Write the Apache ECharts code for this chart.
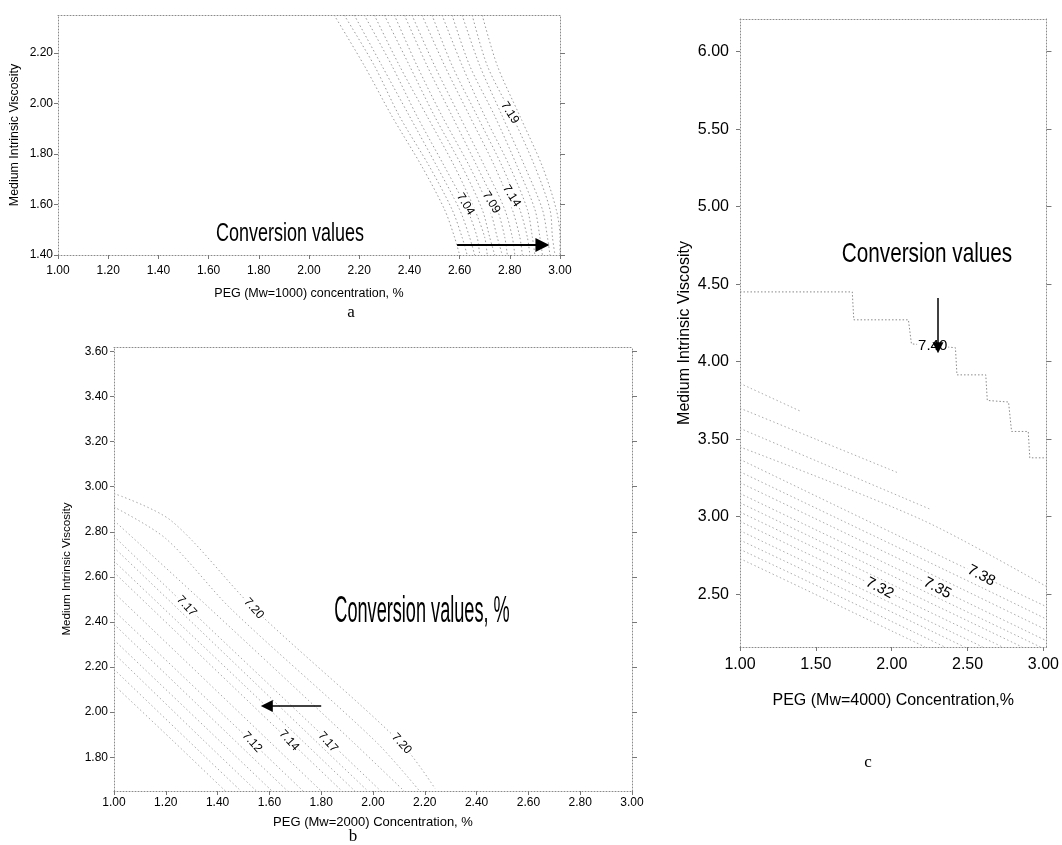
<!DOCTYPE html>
<html>
<head>
<meta charset="utf-8">
<script src="https://cdn.jsdelivr.net/npm/echarts@6/dist/echarts.min.js"></script>
<style>
html, body { margin: 0; padding: 0; background: #fff; }
#chart { width: 1062px; height: 845px; }
</style>
</head>
<body>
<div id="chart"></div>
<script>
// tick values of the three panels
const ticksA_x = [1.0, 1.2, 1.4, 1.6, 1.8, 2.0, 2.2, 2.4, 2.6, 2.8, 3.0];
const ticksA_y = [1.4, 1.6, 1.8, 2.0, 2.2];
const ticksB_x = [1.0, 1.2, 1.4, 1.6, 1.8, 2.0, 2.2, 2.4, 2.6, 2.8, 3.0];
const ticksB_y = [1.8, 2.0, 2.2, 2.4, 2.6, 2.8, 3.0, 3.2, 3.4, 3.6];
const ticksC_x = [1.0, 1.5, 2.0, 2.5, 3.0];
const ticksC_y = [2.5, 3.0, 3.5, 4.0, 4.5, 5.0, 5.5, 6.0];

// panel a: contour x positions read at these viscosity levels
const contourA_y = [2.35, 2.15, 1.95, 1.75, 1.58, 1.47, 1.40];
const contourA_x = [
  [2.10, 2.22, 2.33, 2.45, 2.54, 2.58, 2.60],
  [2.14, 2.26, 2.36, 2.48, 2.57, 2.61, 2.63],
  [2.18, 2.29, 2.40, 2.51, 2.60, 2.64, 2.66],
  [2.22, 2.33, 2.43, 2.54, 2.63, 2.67, 2.68],
  [2.26, 2.36, 2.47, 2.58, 2.66, 2.70, 2.71],
  [2.30, 2.40, 2.50, 2.61, 2.69, 2.72, 2.74],
  [2.34, 2.43, 2.53, 2.64, 2.72, 2.75, 2.77],
  [2.38, 2.47, 2.57, 2.67, 2.75, 2.78, 2.79],
  [2.41, 2.50, 2.60, 2.70, 2.78, 2.81, 2.82],
  [2.45, 2.54, 2.64, 2.74, 2.81, 2.84, 2.85],
  [2.49, 2.57, 2.67, 2.77, 2.84, 2.87, 2.88],
  [2.53, 2.61, 2.70, 2.80, 2.87, 2.89, 2.90],
  [2.57, 2.64, 2.74, 2.83, 2.90, 2.92, 2.93],
  [2.61, 2.68, 2.77, 2.86, 2.93, 2.95, 2.96],
  [2.65, 2.71, 2.81, 2.90, 2.96, 2.97, 2.98],
  [2.69, 2.75, 2.84, 2.93, 2.985, 3.00, 3.00]
];
const labelsA = [[2.80, 1.963, '7.19'], [2.807, 1.634, '7.14'], [2.726, 1.608, '7.09'], [2.623, 1.601, '7.04']];
const arrowA = [[2.59, 1.44], [2.93, 1.44]];

// panel b: contour lines
const contourB = [
  [[1.0, 2.12], [1.23, 1.87], [1.43, 1.65]],
  [[1.0, 2.19], [1.29, 1.87], [1.49, 1.65]],
  [[1.0, 2.26], [1.35, 1.87], [1.55, 1.65]],
  [[1.0, 2.32], [1.41, 1.87], [1.61, 1.65]],
  [[1.0, 2.39], [1.47, 1.87], [1.67, 1.65]],
  [[1.0, 2.45], [1.53, 1.87], [1.73, 1.65]],
  [[1.0, 2.53], [1.60, 1.87], [1.80, 1.65]],
  [[1.0, 2.62], [1.68, 1.87], [1.88, 1.65]],
  [[1.0, 2.67], [1.73, 1.87], [1.93, 1.65]],
  [[1.0, 2.73], [1.78, 1.87], [1.98, 1.65]],
  [[1.0, 2.78], [1.28, 2.47], [1.83, 1.87], [2.03, 1.65]],
  [[1.0, 2.85], [1.37, 2.46], [1.92, 1.87], [2.12, 1.65]],
  [[1.0, 2.91], [1.20, 2.77], [1.45, 2.46], [2.01, 1.87], [2.18, 1.65]],
  [[1.0, 2.97], [1.22, 2.85], [1.54, 2.46], [2.11, 1.86], [2.24, 1.66]]
];
const labelsB = [[1.28, 2.47, '7.17'], [1.54, 2.46, '7.20'], [1.533, 1.867, '7.12'],
                 [1.676, 1.874, '7.14'], [1.826, 1.867, '7.17'], [2.11, 1.86, '7.20']];
const arrowB = [[1.80, 2.027], [1.59, 2.027]];

// panel c: contour lines and the stepped 7.40 line
const contourC = [
  [[1.0, 2.73], [1.41, 2.54], [2.22, 2.16]],
  [[1.0, 2.79], [1.54, 2.54], [2.35, 2.16]],
  [[1.0, 2.85], [1.67, 2.54], [2.48, 2.16]],
  [[1.0, 2.91], [1.79, 2.54], [2.60, 2.16]],
  [[1.0, 2.97], [1.92, 2.54], [2.73, 2.16]],
  [[1.0, 3.03], [2.05, 2.54], [2.86, 2.16]],
  [[1.0, 3.09], [2.17, 2.54], [2.98, 2.16]],
  [[1.0, 3.15], [2.30, 2.54], [3.02, 2.20]],
  [[1.0, 3.22], [2.45, 2.54], [3.02, 2.27]],
  [[1.0, 3.29], [2.60, 2.54], [3.02, 2.34]],
  [[1.0, 3.37], [2.59, 2.62], [3.02, 2.42]],
  [[1.0, 3.45], [2.20, 2.98], [3.02, 2.55]],
  [[1.0, 3.57], [1.60, 3.32], [2.25, 3.05]],
  [[1.0, 3.70], [1.50, 3.50], [2.05, 3.28]],
  [[1.0, 3.86], [1.40, 3.68]]
];
const stepC = [[1.0, 4.45], [1.74, 4.45], [1.75, 4.27], [2.11, 4.27], [2.13, 4.115], [2.42, 4.09],
               [2.43, 3.915], [2.62, 3.915], [2.63, 3.75], [2.77, 3.74], [2.79, 3.55], [2.90, 3.55],
               [2.91, 3.38], [3.02, 3.38]];
const labelsC = [[1.92, 2.54, '7.32'], [2.30, 2.54, '7.35'], [2.59, 2.62, '7.38']];
const label740 = [[2.27, 4.10, '7.40']];
const arrowC = [[2.305, 4.41], [2.305, 4.09]];

const FONT = '"Liberation Sans", Arial, sans-serif';

const panels = [
  { grid: { left: 58, top: 15, width: 502, height: 240 },
    xMin: 1, xMax: 3, yMin: 1.40, yMax: 2.35, xTicks: ticksA_x, yTicks: ticksA_y,
    xName: 'PEG (Mw=1000) concentration, %', fs: 12, xNameFs: 12.5, yNameFs: 12.4,
    xMargin: 10, yMargin: 5, xGap: 32, yGap: 37 },
  { grid: { left: 114, top: 347, width: 518, height: 444 },
    xMin: 1, xMax: 3, yMin: 1.65, yMax: 3.62, xTicks: ticksB_x, yTicks: ticksB_y,
    xName: 'PEG (Mw=2000) Concentration, %', fs: 12, xNameFs: 13, yNameFs: 11.6,
    xMargin: 6, yMargin: 6, xGap: 25, yGap: 41 },
  { grid: { left: 740, top: 19, width: 308, height: 628 },
    xMin: 1, xMax: 3.02, yMin: 2.16, yMax: 6.21, xTicks: ticksC_x, yTicks: ticksC_y,
    xName: 'PEG (Mw=4000) Concentration,%', fs: 16, xNameFs: 16, yNameFs: 16,
    xMargin: 10, yMargin: 11, xGap: 46, yGap: 47 }
];

const borderLine = { show: true, onZero: false, lineStyle: { color: '#8a8a8a', width: 1, type: [1, 2] } };
const fmt = v => v.toFixed(2);

const grid = [], xAxis = [], yAxis = [];
panels.forEach((p, i) => {
  grid.push(Object.assign({ containLabel: false }, p.grid));
  xAxis.push({
    gridIndex: i, type: 'value', min: p.xMin, max: p.xMax, position: 'bottom',
    axisLine: borderLine,
    axisTick: { show: true, customValues: p.xTicks, length: 4, lineStyle: { color: '#777' } },
    axisLabel: { customValues: p.xTicks, formatter: fmt, color: '#000', fontSize: p.fs,
                 fontFamily: FONT, margin: p.xMargin },
    splitLine: { show: false },
    name: p.xName, nameLocation: 'middle', nameGap: p.xGap,
    nameTextStyle: { color: '#000', fontSize: p.xNameFs, fontFamily: FONT }
  });
  xAxis.push({
    gridIndex: i, type: 'value', min: p.xMin, max: p.xMax, position: 'top',
    axisLine: borderLine, axisTick: { show: false }, axisLabel: { show: false }, splitLine: { show: false }
  });
  yAxis.push({
    gridIndex: i, type: 'value', min: p.yMin, max: p.yMax, position: 'left',
    axisLine: borderLine,
    axisTick: { show: true, customValues: p.yTicks, length: 4, lineStyle: { color: '#777' } },
    axisLabel: { customValues: p.yTicks, formatter: fmt, color: '#000', fontSize: p.fs,
                 fontFamily: FONT, margin: p.yMargin },
    splitLine: { show: false },
    name: 'Medium Intrinsic Viscosity', nameLocation: 'middle', nameGap: p.yGap,
    nameTextStyle: { color: '#000', fontSize: p.yNameFs, fontFamily: FONT }
  });
  yAxis.push({
    gridIndex: i, type: 'value', min: p.yMin, max: p.yMax, position: 'right',
    axisLine: borderLine,
    axisTick: { show: true, customValues: p.yTicks, length: 5, lineStyle: { color: '#777' } },
    axisLabel: { show: false }, splitLine: { show: false }
  });
});

const series = [];
function contour(i, data, color) {
  series.push({
    type: 'line', xAxisIndex: 2 * i, yAxisIndex: 2 * i, data: data,
    symbol: 'none', smooth: 0.3, silent: true, z: 1,
    lineStyle: { color: color, width: 1, type: [1.5, 2.5] }
  });
}
contourA_x.forEach(row => contour(0, row.map((x, k) => [x, contourA_y[k]]), '#999'));
contourB.forEach(line => contour(1, line, '#aaa'));
contourC.forEach(line => contour(2, line, '#acacac'));
series.push({
  type: 'line', xAxisIndex: 4, yAxisIndex: 4, data: stepC, symbol: 'none', silent: true, z: 1,
  lineStyle: { color: '#8a8a8a', width: 1, type: [1.5, 2] }
});

function labels(i, data, rot, fs) {
  series.push({
    type: 'scatter', xAxisIndex: 2 * i, yAxisIndex: 2 * i, data: data,
    symbolSize: 1, itemStyle: { color: '#fff', opacity: 1 }, silent: true, z: 5,
    label: { show: true, position: 'inside', rotate: rot, formatter: p => p.value[2],
             color: '#000', opacity: 1, textBorderWidth: 0, fontSize: fs, fontFamily: FONT,
             backgroundColor: '#fff', padding: [0, 1] }
  });
}
labels(0, labelsA, -58, 12);
labels(1, labelsB, -48, 12);
labels(2, labelsC, -28, 15);
labels(2, label740, 0, 15);

function arrow(i, coords, width, size) {
  series.push({
    type: 'lines', coordinateSystem: 'cartesian2d', xAxisIndex: 2 * i, yAxisIndex: 2 * i,
    data: [{ coords: coords }], symbol: ['none', 'triangle'], symbolSize: size, silent: true, z: 6,
    lineStyle: { color: '#000', width: width, opacity: 1, curveness: 0 }
  });
}
arrow(0, arrowA, 2, 14);
arrow(1, arrowB, 1.5, 12);
arrow(2, arrowC, 1.5, 11);

const graphic = [
  { type: 'text', x: 290, y: 234, scaleX: 0.72,
    style: { text: 'Conversion values', font: '25px ' + FONT, fill: '#000', textAlign: 'center', textVerticalAlign: 'middle' } },
  { type: 'text', x: 422, y: 612, scaleX: 0.49,
    style: { text: 'Conversion values, %', font: '37px ' + FONT, fill: '#000', textAlign: 'center', textVerticalAlign: 'middle' } },
  { type: 'text', x: 927, y: 254, scaleX: 0.74,
    style: { text: 'Conversion values', font: '28px ' + FONT, fill: '#000', textAlign: 'center', textVerticalAlign: 'middle' } },
  { type: 'text', x: 351, y: 313,
    style: { text: 'a', font: '17px "Liberation Serif", serif', fill: '#000', textAlign: 'center', textVerticalAlign: 'middle' } },
  { type: 'text', x: 353, y: 837,
    style: { text: 'b', font: '17px "Liberation Serif", serif', fill: '#000', textAlign: 'center', textVerticalAlign: 'middle' } },
  { type: 'text', x: 868, y: 763,
    style: { text: 'c', font: '17px "Liberation Serif", serif', fill: '#000', textAlign: 'center', textVerticalAlign: 'middle' } }
];

const chart = echarts.init(document.getElementById('chart'));
chart.setOption({
  animation: false,
  backgroundColor: '#fff',
  grid: grid, xAxis: xAxis, yAxis: yAxis,
  series: series,
  graphic: graphic
});
</script>
</body>
</html>
